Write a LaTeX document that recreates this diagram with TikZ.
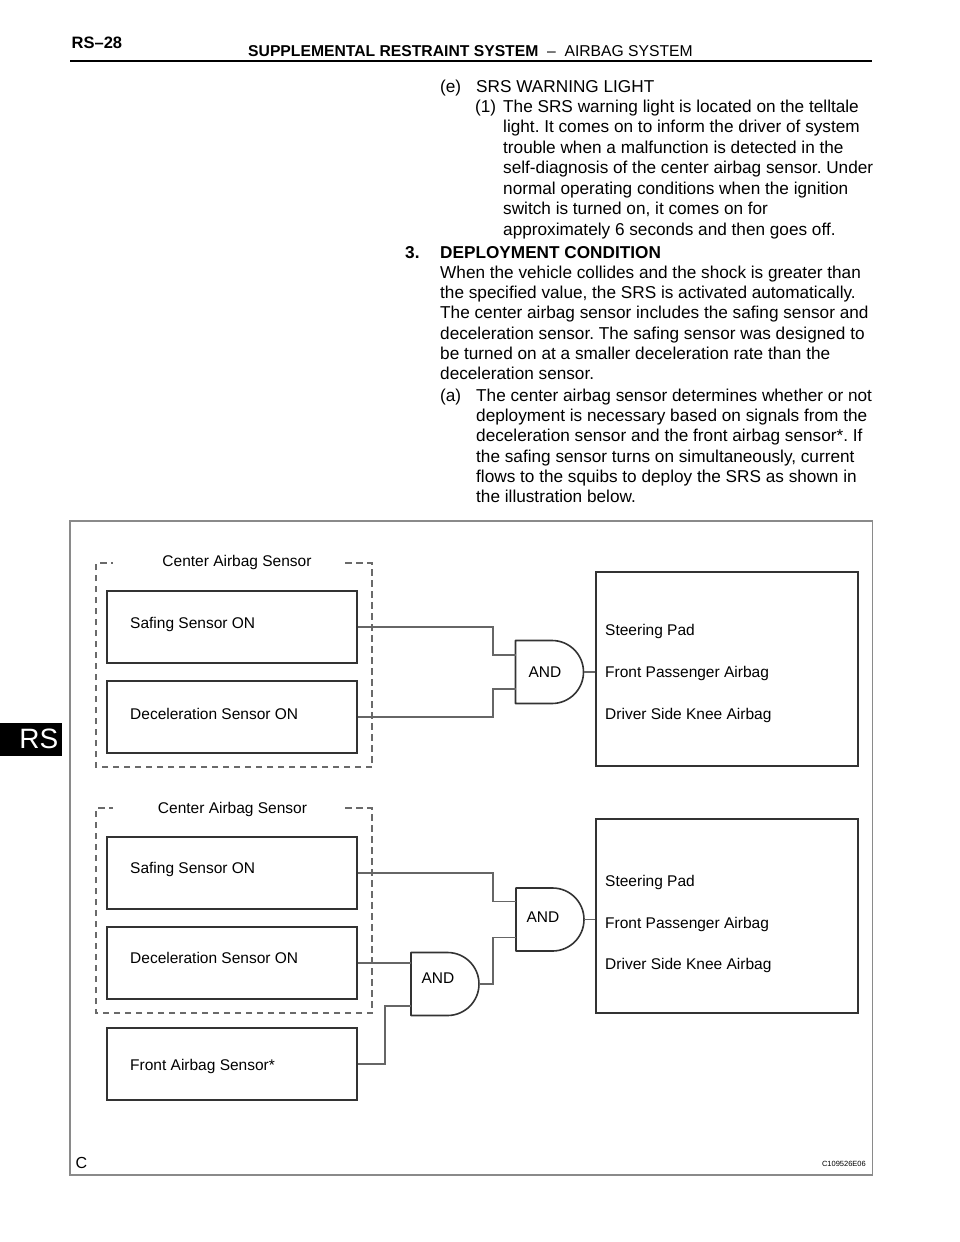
\documentclass[tikz,border=0pt]{standalone}
\usepackage{fontspec}
\setmainfont{Liberation Sans}
\usetikzlibrary{calc}
\frenchspacing
\definecolor{boxc}{HTML}{333333}
\definecolor{wirec}{HTML}{666666}
\definecolor{framec}{HTML}{8A8A8A}
\definecolor{dashc}{HTML}{6A6A6A}
\newcommand\andgateshape[2]{\draw[gatec] (#1.north west) -- ($(#1.north east)+(-#2,0)$) arc[start angle=-90,end angle=90,radius=#2] -- (#1.south west) -- cycle;}
\begin{document}
\begin{tikzpicture}[x=1pt,y=-1pt,
  body/.style={font=\fontsize{17.2}{20}\selectfont, anchor=base west, inner sep=0pt},
  dg/.style={font=\fontsize{15.5}{18}\selectfont, inner sep=0pt},
  sbox/.style={draw=boxc, line width=1.8pt, minimum width=250pt, minimum height=72pt, inner sep=0pt},
  obox/.style={draw=boxc, line width=1.8pt, minimum width=262pt, minimum height=194pt, inner sep=0pt},
  gnode/.style={minimum width=68pt, minimum height=63pt, inner sep=0pt, outer sep=0pt},
  gatec/.style={draw=boxc, line width=1.6pt, line join=round},
  wire/.style={draw=wirec, line width=1.2pt},
  grp/.style={draw=dashc, line width=1.2pt, dash pattern=on 6.5pt off 4.5pt}
]
\useasboundingbox (0,0) rectangle (960,1242);
\fill[white] (0,0) rectangle (960,1242);

% header
\node[font=\bfseries\fontsize{16.5}{18}\selectfont, anchor=base west, inner sep=0pt] (hdnum) at (71.5,48.3) {RS–28};
\node[font=\fontsize{15.7}{18}\selectfont, anchor=base east, inner sep=0pt] (hdtitle) at (693,56.5) {\textbf{SUPPLEMENTAL RESTRAINT SYSTEM}~~–~~AIRBAG SYSTEM};
\draw[line width=1.8pt] (70,60.7) -- (872,60.7);

% side tab
\fill[black] (0,723) rectangle (62,756);
\node[text=white, font=\fontsize{28}{30}\selectfont, anchor=base east, inner sep=0pt] (tab) at (58.5,748) {RS};

% body text
\foreach \px/\py/\t [count=\i] in {
  440/92.7/{(e)}, 476/92.7/{SRS WARNING LIGHT},
  475/112.7/{(1)}, 503/112.7/{The SRS warning light is located on the telltale},
  503/132.7/{light. It comes on to inform the driver of system},
  503/153/{trouble when a malfunction is detected in the},
  503/173.3/{self-diagnosis of the center airbag sensor. Under},
  503/194/{normal operating conditions when the ignition},
  503/214.3/{switch is turned on, it comes on for},
  503/235/{approximately 6 seconds and then goes off.},
  440/278/{When the vehicle collides and the shock is greater than},
  440/298.3/{the specified value, the SRS is activated automatically.},
  440/318.7/{The center airbag sensor includes the safing sensor and},
  440/339/{deceleration sensor. The safing sensor was designed to},
  440/359.3/{be turned on at a smaller deceleration rate than the},
  440/379.7/{deceleration sensor.},
  440/401/{(a)}, 476/401/{The center airbag sensor determines whether or not},
  476/421.3/{deployment is necessary based on signals from the},
  476/441.7/{deceleration sensor and the front airbag sensor*. If},
  476/462/{the safing sensor turns on simultaneously, current},
  476/482.3/{flows to the squibs to deploy the SRS as shown in},
  476/502.7/{the illustration below.}}
  \node[body] (b\i) at (\px,\py) {\t};
\node[body, font=\bfseries\fontsize{17.2}{20}\selectfont] (h3n) at (405,258) {3.};
\node[body, font=\bfseries\fontsize{17.2}{20}\selectfont] (h3t) at (440,258) {DEPLOYMENT CONDITION};

% figure frame
\draw[framec, line width=1.3pt] (70,521) rectangle (872.5,1175);
\node[font=\fontsize{16}{18}\selectfont, anchor=base west, inner sep=0pt] (figc) at (75.5,1168) {C};
\node[font=\fontsize{7.5}{9}\selectfont, anchor=base east, inner sep=0pt] (figid) at (866,1166) {C109526E06};

% ===== top diagram =====
\draw[grp] (345,563) -- (372,563) -- (372,767) -- (96,767) -- (96,563) -- (113,563);
\node[dg, anchor=base] (cas1) at (237,566.5) {Center Airbag Sensor};
\node[sbox] (saf1) at (232,627) {};
\node[sbox] (dec1) at (232,717) {};
\node[dg, anchor=base west] (saf1t) at (130,628.5) {Safing Sensor ON};
\node[dg, anchor=base west] (dec1t) at (130,719.5) {Deceleration Sensor ON};
\node[obox] (out1) at (727,669) {};
\node[dg, anchor=base west] (o1a) at (605,635) {Steering Pad};
\node[dg, anchor=base west] (o1b) at (605,677) {Front Passenger Airbag};
\node[dg, anchor=base west] (o1c) at (605,719) {Driver Side Knee Airbag};
\node[gnode] (g1) at (549.5,672) {};
\andgateshape{g1}{31.5}
\node[dg, anchor=base] (g1t) at (545,677.5) {AND};
\coordinate (g1a) at ($(g1.west)+(0,-17)$);
\coordinate (g1b) at ($(g1.west)+(0,17)$);
\draw[wire] (saf1.east) -- ++(135,0) |- (g1a);
\draw[wire] (dec1.east) -- ++(135,0) |- (g1b);
\draw[wire] (g1.east) -- (g1.east -| out1.west);

% ===== bottom diagram =====
\draw[grp] (345,808) -- (372,808) -- (372,1013) -- (96,1013) -- (96,808) -- (113,808);
\node[dg, anchor=base] (cas2) at (232.5,813.5) {Center Airbag Sensor};
\node[sbox] (saf2) at (232,873) {};
\node[sbox] (dec2) at (232,963) {};
\node[sbox] (fr) at (232,1064) {};
\node[dg, anchor=base west] (saf2t) at (130,873.8) {Safing Sensor ON};
\node[dg, anchor=base west] (dec2t) at (130,963.8) {Deceleration Sensor ON};
\node[dg, anchor=base west] (frt) at (130,1070.5) {Front Airbag Sensor*};
\node[obox] (out2) at (727,916) {};
\node[dg, anchor=base west] (o2a) at (605,886) {Steering Pad};
\node[dg, anchor=base west] (o2b) at (605,928) {Front Passenger Airbag};
\node[dg, anchor=base west] (o2c) at (605,969) {Driver Side Knee Airbag};
\node[gnode] (g2) at (550,919.5) {};
\andgateshape{g2}{31.5}
\node[dg, anchor=base] (g2t) at (543,922.5) {AND};
\node[gnode] (g3) at (445,984) {};
\andgateshape{g3}{31.5}
\node[dg, anchor=base] (g3t) at (438,983.5) {AND};
\coordinate (g2a) at ($(g2.west)+(0,-18)$);
\coordinate (g2b) at ($(g2.west)+(0,18)$);
\coordinate (g3a) at ($(g3.west)+(0,-21)$);
\coordinate (g3b) at ($(g3.west)+(0,22)$);
\draw[wire] (saf2.east) -- ++(135,0) |- (g2a);
\draw[wire] (dec2.east) -- (dec2.east -| g3a);
\draw[wire] (fr.east) -- ++(27,0) |- (g3b);
\draw[wire] (g3.east) -- ++(14,0) |- (g2b);
\draw[wire] (g2.east) -- (g2.east -| out2.west);
\end{tikzpicture}
\end{document}
